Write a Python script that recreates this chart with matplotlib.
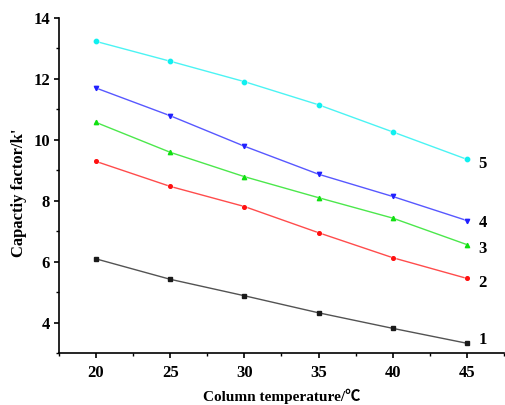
import matplotlib
matplotlib.use("Agg")
import matplotlib.pyplot as plt
from matplotlib.ticker import MultipleLocator

temps = [20, 25, 30, 35, 40, 45]
k1 = [6.09, 5.42, 4.88, 4.32, 3.81, 3.32]
k2 = [9.29, 8.47, 7.81, 6.95, 6.13, 5.45]
k3 = [10.57, 9.59, 8.79, 8.10, 7.43, 6.56]
k4 = [11.70, 10.79, 9.79, 8.87, 8.14, 7.35]
k5 = [13.23, 12.58, 11.91, 11.15, 10.26, 9.36]
series_labels = ["1", "2", "3", "4", "5"]

plt.rcParams["font.family"] = ["Liberation Serif", "Noto Sans CJK SC", "DejaVu Sans"]
plt.rcParams["font.weight"] = "bold"

fig = plt.figure(figsize=(5.05, 4.05), dpi=100)
ax = fig.add_axes([0.1168, 0.1284, 0.881, 0.8272])

# (values, colour, marker, marker size, vertical nudge of the end label in points)
styles = [
    (k1, "#1a1a1a", "s", 3.5, 2.5),
    (k2, "#ff1010", "o", 3.5, -3.0),
    (k3, "#10e010", "^", 4.0, -3.5),
    (k4, "#2020ff", "v", 4.0, -1.5),
    (k5, "#10f0f0", "o", 4.0, -3.5),
]
for (vals, col, mk, ms, dy), lab in zip(styles, series_labels):
    ax.plot(temps, vals, color=col, lw=1.0, alpha=0.75, zorder=2)
    ax.plot(temps, vals, ls="none", marker=mk, ms=ms, color=col,
            markeredgecolor="white", markeredgewidth=0.7, zorder=3)
    ax.plot(temps, vals, ls="none", marker=mk, ms=ms - 0.9, color=col, zorder=4)
    ax.annotate(lab, xy=(temps[-1], vals[-1]), xytext=(8.5, dy),
                textcoords="offset points", fontsize=12, fontweight="bold",
                va="center", ha="left")

ax.set_xlim(17.5, 47.5)
ax.set_ylim(3, 14)
ax.xaxis.set_minor_locator(MultipleLocator(2.5))
ax.yaxis.set_minor_locator(MultipleLocator(1))
ax.set_yticks([4, 6, 8, 10, 12, 14])
ax.set_xticks(temps)

for s in ("top", "right"):
    ax.spines[s].set_visible(False)
for s in ("left", "bottom"):
    ax.spines[s].set_linewidth(1.2)
ax.tick_params(which="major", direction="out", length=3.5, width=1.2,
               labelsize=12, pad=3)
ax.tick_params(axis="x", which="major", pad=5)
ax.tick_params(which="minor", direction="out", length=2.2, width=1.0)
for t in ax.get_xticklabels() + ax.get_yticklabels():
    t.set_fontweight("bold")

ax.set_xlabel("Column temperature/℃", fontsize=11, fontweight="bold", va="top")
ax.xaxis.set_label_coords(0.5, -0.107)
ax.set_ylabel("Capactiy factor/k'", fontsize=12, fontweight="bold")
ax.yaxis.set_label_coords(-0.072, 0.478)

fig.savefig("out.png", dpi=100)
